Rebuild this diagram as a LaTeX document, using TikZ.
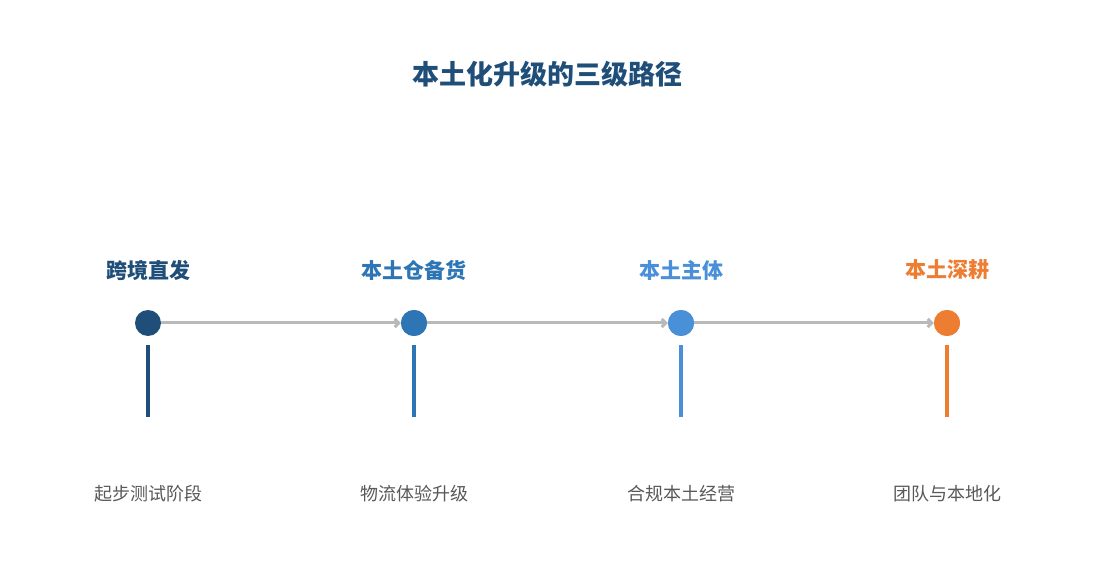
\documentclass[tikz,border=0pt]{standalone}
\usepackage{fontspec}
\setmainfont{Noto Sans CJK SC}
\usetikzlibrary{arrows.meta,positioning}
\definecolor{stepA}{HTML}{1F4E79}
\definecolor{stepB}{HTML}{2E75B6}
\definecolor{stepC}{HTML}{4A90D9}
\definecolor{stepD}{HTML}{ED7D31}
\definecolor{descgray}{HTML}{595959}
\tikzset{
    dot/.style = {circle, fill = #1, minimum size = 26pt, inner sep = 0pt},
    head/.style = {text = #1, font = \fontsize{21}{24}\selectfont\bfseries},
    desc/.style = {text = descgray, font = \fontsize{18}{22}\selectfont},
    link/.style = {draw = gray!55, line width = 3pt, -{Straight Barb[length=4pt,width=8pt]}},
    bar/.style = {line width = 4pt, draw = #1}
}
\begin{document}
\begin{tikzpicture}[x = 1pt, y = -1pt]
        \useasboundingbox[fill = white] (0, 0) rectangle (1095, 585);
        \node[text = stepA, font = \fontsize{27}{30}\selectfont\bfseries] (title) at (547, 74) {本土化升级的三级路径};

        \foreach \name/\x/\col/\head/\desc in {
            a/148/stepA/跨境直发/起步测试阶段,
            b/414/stepB/本土仓备货/物流体验升级,
            c/681/stepC/本土主体/合规本土经营,
            d/947/stepD/本土深耕/团队与本地化} {
            \node[dot = \col] (\name) at (\x, 323) {};
            \node[head = \col] (\name h) at (\x, 270) {\head};
            \coordinate (\name top) at (\x, 345);
            \coordinate (\name bot) at (\x, 417);
            \draw[bar = \col] (\name top) -- (\name bot);
            \node[desc] (\name d) at (\x, 494) {\desc};
        }

        \draw[link] (a) -- (b);
        \draw[link] (b) -- (c);
        \draw[link] (c) -- (d);
        % redraw dots over the arrow tips
        \node[dot = stepB] at (b) {};
        \node[dot = stepC] at (c) {};
        \node[dot = stepD] at (d) {};
    \end{tikzpicture}
\end{document}
